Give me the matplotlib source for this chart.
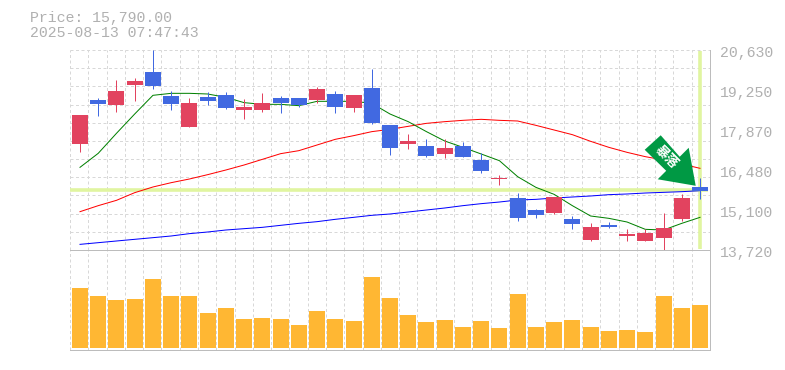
import matplotlib
matplotlib.use('Agg')
import matplotlib.pyplot as plt
import numpy as np
from matplotlib.patches import Polygon

# candles, prices
body_top = [18384, 18903, 19213, 19559, 19870, 19041, 18799, 19006, 19075, 18661, 18799, 18972,
            18972, 19283, 19110, 19075, 19317, 18039, 17486, 17313, 17244, 17313, 16830, 16208,
            15516, 15102, 15551, 14791, 14514, 14584, 14273, 14307, 14480, 15516, 15897]
body_bot = [17382, 18764, 18730, 19421, 19386, 18764, 17970, 18868, 18626, 18557, 18557, 18799,
            18730, 18903, 18661, 18626, 18108, 17244, 17382, 16968, 17037, 16933, 16449, 16185,
            14825, 14929, 14998, 14618, 14065, 14514, 14204, 14031, 14135, 14791, 15770]
high = [18384, 18972, 19594, 19663, 20630, 19213, 18972, 19179, 19179, 18937, 19144, 19041,
        18972, 19352, 19213, 19075, 19974, 18039, 17728, 17555, 17555, 17451, 17072, 16311,
        15689, 15136, 15551, 14895, 14653, 14687, 14445, 14445, 14998, 15655, 16208]
low = [17106, 18350, 18488, 18868, 19283, 18557, 17970, 18730, 18592, 18246, 18488, 18453,
       18661, 18799, 18453, 18488, 18073, 17002, 17210, 16933, 16899, 16933, 16380, 15966,
       14722, 14825, 14964, 14445, 14031, 14480, 14031, 14031, 13720, 14722, 15482]
is_red = [1, 0, 1, 1, 0, 0, 1, 0, 0, 1, 1, 0,
          0, 1, 0, 1, 0, 0, 1, 0, 1, 0, 0, 1,
          0, 0, 1, 0, 1, 0, 1, 1, 1, 1, 0]

# moving averages
ma_short = [16576, 17060, 17751, 18419, 19064, 19133, 19133, 19110, 18995, 18811, 18753, 18753,
            18707, 18857, 18857, 18857, 18788, 18419, 18154, 17809, 17486, 17267, 17037, 16806,
            16254, 15885, 15643, 15252, 14895, 14814, 14687, 14434, 14411, 14641, 14848]
ma_mid = [15044, 15252, 15436, 15701, 15897, 16046, 16173, 16323, 16484, 16657, 16852, 17048,
          17152, 17348, 17544, 17670, 17809, 17889, 17993, 18096, 18154, 18200, 18235, 18200,
          18177, 18027, 17866, 17705, 17475, 17267, 17094, 16945, 16830, 16691, 16542]
ma_long = [13915, 13973, 14031, 14089, 14146, 14204, 14285, 14342, 14411, 14457, 14503, 14572,
           14641, 14699, 14780, 14848, 14918, 14964, 15033, 15102, 15171, 15252, 15321, 15378,
           15447, 15470, 15516, 15551, 15586, 15632, 15655, 15689, 15712, 15735, 15770]

# volume, no scale on the chart so these are relative
volume = [181, 157, 145, 148, 208, 157, 157, 106, 121, 88, 91, 88, 70, 112, 88, 82, 214, 151,
          100, 79, 85, 64, 82, 61, 163, 64, 79, 85, 64, 52, 55, 49, 157, 121, 130]

price_labels = [20630, 19250, 17870, 16480, 15100, 13720]
date_idx = [4, 9, 14, 19, 24, 29, 34]
date_labels = ['6/30', '7/7', '7/14', '7/22', '7/29', '8/5', '8/13']
last_price = 15790

GRAY = '#bcbcbc'
TEXT = '#b0b0b0'
GRID = '#d8d8d8'
RED = '#e2435f'
BLUE = '#4169e1'
W, H = 785, 370
XMIN, XMAX = -0.548, 34.548
PX = 0.72  # one pixel in points
DASH = (0, (3, 2.5))

plt.rcParams['font.family'] = ['Liberation Mono', 'DejaVu Sans Mono']

fig = plt.figure(figsize=(W / 100, H / 100), dpi=100)
ax = fig.add_axes([70 / W, 1 - 250 / H, 640 / W, 200 / H])
ax_vol = fig.add_axes([70 / W, 1 - 350 / H, 640 / W, 100 / H])
x = np.arange(len(volume))

grid_x = np.linspace(XMIN, XMAX, 36)
for a in (ax, ax_vol):
    a.set_xlim(XMIN, XMAX)
    a.set_xticks(grid_x)
    a.tick_params(length=0, labelbottom=False, labelleft=False)
    a.grid(axis='x', color=GRID, lw=PX, ls=DASH)
    a.set_axisbelow(True)
    for s in a.spines.values():
        s.set_color(GRAY)
        s.set_linewidth(PX)
    a.spines['left'].set_visible(False)

ax.spines['top'].set_visible(False)
ax.set_ylim(13720, 20630)
ax.set_yticks(np.linspace(13720, 20630, 12))
ax.grid(axis='y', color=GRID, lw=PX, ls=DASH)

# current price cross
ax.hlines(last_price, XMIN, 34.45, color='#e0f5a0', lw=3.6 * PX, zorder=1.5)
ax.vlines(34, 13760, 20590, color='#e0f5a0', lw=3.6 * PX, zorder=1.5)

ax.plot(x, ma_long, color='#0000ff', lw=PX, zorder=2)
ax.plot(x, ma_mid, color='#ff0000', lw=PX, zorder=2)
ax.plot(x, ma_short, color='#008000', lw=PX, zorder=2)

colors = [RED if r else BLUE for r in is_red]
ax.vlines(x, low, high, colors=colors, lw=PX, zorder=3)
ax.bar(x, np.array(body_top) - np.array(body_bot), bottom=body_bot, width=0.877, color=colors, zorder=3)

# arrow pointing at the last candle, offsets in pixels from its tip
fig.canvas.draw()
tip_x, tip_y = ax.transData.transform((34, last_price))
tip_x, tip_y = tip_x - 4.3, tip_y + 4.3
arrow = [(0, 0), (-38, 6.5), (-29.5, 15), (-51, 36), (-35, 50.5), (-16, 29), (-7, 38)]
arrow_px = [(tip_x + dx, tip_y + dy) for dx, dy in arrow]
ax.add_patch(Polygon(arrow_px, closed=True, transform=None, facecolor='#009944', edgecolor='none',
                     zorder=4, clip_on=False))
ax.annotate('暴落', xy=(tip_x - 29.5, tip_y + 29), xycoords='figure pixels', color='white', fontsize=9.5,
            family=['Noto Sans CJK JP', 'DejaVu Sans'], fontweight='bold', rotation=-45,
            rotation_mode='anchor', ha='center', va='center', zorder=5)

ax_vol.set_ylim(-5, 295)
ax_vol.set_yticks([])
ax_vol.bar(x, volume, width=0.877, color='#ffb733', zorder=2)

# labels
for p in price_labels:
    ax.annotate(f'{p:,}', xy=(1, p), xycoords=ax.get_yaxis_transform(), xytext=(7.2, -2.2),
                textcoords='offset points', color=TEXT, fontsize=10.7, va='center', ha='left',
                annotation_clip=False)
for i, d in zip(date_idx, date_labels):
    ax.annotate(d, xy=(i, 0), xycoords=ax.get_xaxis_transform(), xytext=(0, -8),
                textcoords='offset points', color=TEXT, fontsize=7, va='center', ha='center',
                annotation_clip=False)

fig.text(30 / W, 1 - 18 / H, 'Price: 15,790.00', color=TEXT, fontsize=10.7, va='center', ha='left')
fig.text(30 / W, 1 - 33 / H, '2025-08-13 07:47:43', color=TEXT, fontsize=10.7, va='center', ha='left')

fig.savefig('out.png', dpi=100)
